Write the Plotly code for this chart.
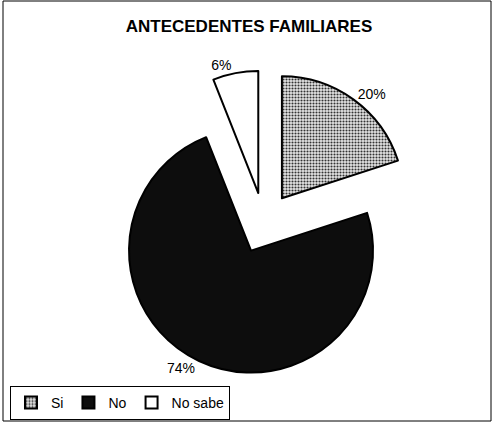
import plotly.graph_objects as go

labels = ["Si", "No", "No sabe"]
values = [20, 74, 6]
colors = ["#c8c8c8", "#0d0d0d", "#ffffff"]
title = "ANTECEDENTES FAMILIARES"

W, H = 495, 422

fig = go.Figure(go.Pie(
    labels=labels,
    values=values,
    sort=False,
    direction="clockwise",
    rotation=0,
    pull=[0.25, 0.25, 0.25],
    marker=dict(
        colors=colors,
        line=dict(color="#000000", width=2),
        pattern=dict(shape=[".", "", ""], fgcolor="#333333", bgcolor=["#e6e6e6", "#0d0d0d", "#ffffff"],
                     size=3, solidity=0.4),
    ),
    texttemplate="%{percent:.0%}",
    textposition="outside",
    textfont=dict(family="Arial", size=14, color="#000000"),
    domain=dict(x=[111.5 / W, 416.5 / W], y=[1 - 375.5 / H, 1 - 70.5 / H]),
    hoverinfo="skip",
))

fig.update_layout(
    width=W, height=H,
    margin=dict(l=0, r=0, t=0, b=0, autoexpand=False),
    paper_bgcolor="#ffffff",
    plot_bgcolor="#ffffff",
    title=dict(text="<b>" + title + "</b>", x=0.503, xanchor="center", y=1 - 26 / H, yanchor="middle",
               font=dict(family="Arial", size=17, color="#000000")),
    showlegend=True,
    legend=dict(orientation="h", x=10 / W, xanchor="left", y=2 / H, yanchor="bottom",
                bordercolor="#000000", borderwidth=1, bgcolor="#ffffff",
                font=dict(family="Arial", size=14, color="#000000"),
                itemsizing="constant", traceorder="normal"),
    shapes=[dict(type="rect", xref="paper", yref="paper", x0=3 / W, x1=491 / W, y0=1 / H, y1=1 - 1 / H,
                 line=dict(color="#000000", width=1), fillcolor="rgba(0,0,0,0)", layer="below")],
)

fig.write_html("out.html", config={"displayModeBar": False},
               post_script="document.body.style.margin='0px';")
